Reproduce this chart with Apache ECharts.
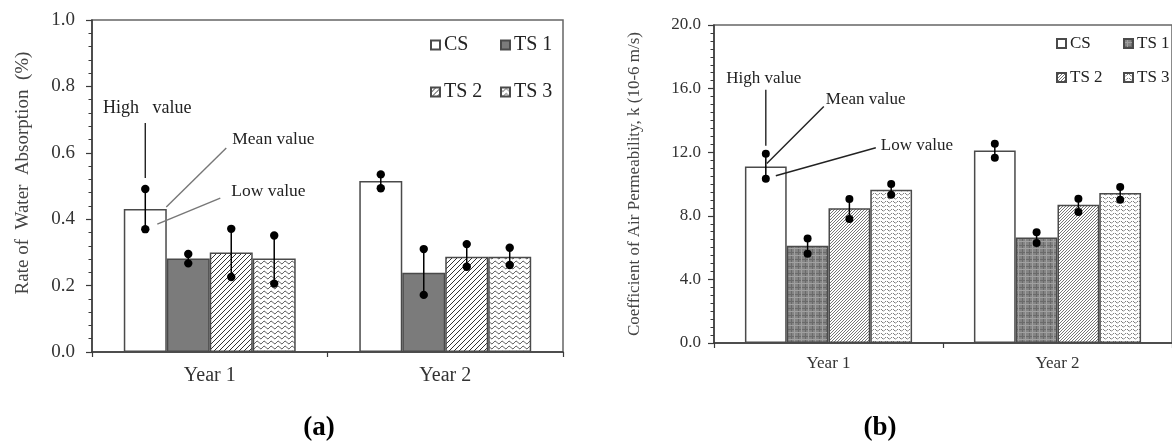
<!DOCTYPE html>
<html><head><meta charset="utf-8">
<script src="https://cdn.jsdelivr.net/npm/echarts@6/dist/echarts.min.js"></script>
<style>html,body{margin:0;padding:0;background:#fff}#c{width:1172px;height:445px}</style>
</head><body><div id="c"></div>
<script>
const categories = ['Year 1', 'Year 2'];
const seriesNames = ['CS', 'TS 1', 'TS 2', 'TS 3'];
// (a) Rate of water absorption (%) : [series][year]
const waMean = [[0.431, 0.515], [0.282, 0.239], [0.300, 0.287], [0.282, 0.287]];
const waHigh = [[0.491, 0.535], [0.295, 0.310], [0.371, 0.325], [0.351, 0.314]];
const waLow  = [[0.370, 0.493], [0.267, 0.172], [0.226, 0.257], [0.206, 0.262]];
// (b) Coefficient of air permeability
const apMean = [[11.10, 12.11], [6.12, 6.64], [8.47, 8.70], [9.64, 9.43]];
const apHigh = [[11.90, 12.53], [6.58, 6.96], [9.06, 9.08], [10.00, 9.81]];
const apLow  = [[10.33, 11.65], [5.62, 6.29], [7.80, 8.24], [9.33, 9.01]];

const FONT = '"Liberation Serif", "Times New Roman", serif';
const GAP = 0.27;

function tile(w, h, draw) {
  const c = document.createElement('canvas'); c.width = w; c.height = h;
  const g = c.getContext('2d'); draw(g, w, h); return c;
}
function pat(c) { return { image: c, repeat: 'repeat' }; }
function hatch(s, col, bg, lw) {
  return tile(s, s, (g) => {
    g.fillStyle = bg; g.fillRect(0, 0, s, s);
    g.strokeStyle = col; g.lineWidth = lw;
    for (const o of [-s, 0, s]) { g.beginPath(); g.moveTo(o, s); g.lineTo(o + s, 0); g.stroke(); }
  });
}
function wave(w, h, col, lw, dash) {
  return tile(w, h, (g) => {
    g.fillStyle = '#fff'; g.fillRect(0, 0, w, h);
    g.strokeStyle = col; g.lineWidth = lw;
    if (dash) g.setLineDash(dash);
    g.beginPath();
    for (let x = 0; x <= w; x += 0.5) {
      const y = h / 2 + Math.sin(x / w * Math.PI * 2) * (h * 0.25);
      if (x === 0) g.moveTo(x, y); else g.lineTo(x, y);
    }
    g.stroke();
  });
}
const checker = tile(7, 7, (g) => {
  g.fillStyle = '#848484'; g.fillRect(0, 0, 7, 7);
  g.fillStyle = '#6a6a6a'; g.fillRect(0, 0, 7, 1); g.fillRect(0, 0, 1, 7);
  g.fillStyle = '#a0a0a0'; g.fillRect(0, 3, 7, 1); g.fillRect(3, 0, 1, 7);
});

const fillsA = ['#ffffff', '#7b7b7b', pat(hatch(5, '#333', '#fff', 1)), pat(wave(7, 5, '#333', 1))];
const fillsB = ['#ffffff', pat(checker), pat(hatch(3, '#666', '#fff', 0.9)), pat(wave(6, 4, '#555', 1, [2, 1]))];

function barSeries(prefix, means, fills, gi, bw) {
  return means.map((m, i) => ({
    name: prefix + seriesNames[i], type: 'bar', xAxisIndex: gi, yAxisIndex: gi,
    data: m, barGap: '0%', barCategoryGap: (GAP * 100) + '%',
    itemStyle: { color: fills[i], borderColor: '#4a4a4a', borderWidth: bw },
    emphasis: { disabled: true }, animation: false
  }));
}
function errSeries(highs, lows, gi, r) {
  return highs.map((hArr, i) => ({
    type: 'custom', xAxisIndex: gi, yAxisIndex: gi, z: 5, animation: false,
    data: hArr.map((h, k) => [k, lows[i][k], h]),
    encode: { x: 0, y: [1, 2] },
    renderItem: (params, api) => {
      const band = api.size([1, 0])[0];
      const bw = band * (1 - GAP) / 4;
      const c = api.coord([api.value(0), api.value(1)]);
      const x = c[0] + (i - 1.5) * bw;
      const yl = c[1];
      const yh = api.coord([api.value(0), api.value(2)])[1];
      return { type: 'group', children: [
        { type: 'line', shape: { x1: x, y1: yh, x2: x, y2: yl }, style: { stroke: '#000', lineWidth: 1.5 } },
        { type: 'circle', shape: { cx: x, cy: yh, r: r }, style: { fill: '#000' } },
        { type: 'circle', shape: { cx: x, cy: yl, r: r }, style: { fill: '#000' } }
      ]};
    }
  }));
}
function legends(prefix, pos, fs) {
  return seriesNames.map((n, i) => ({
    data: [prefix + n], left: pos[i][0], top: pos[i][1], padding: 0,
    itemWidth: 9, itemHeight: 9, itemGap: 0, icon: 'rect', selectedMode: false,
    formatter: (s) => s.replace(/^b:/, ''),
    textStyle: { fontFamily: FONT, fontSize: fs, color: '#222', padding: [0, 0, 0, -1] }
  }));
}
function yAx(gi, max, interval, split, fs, margin, name, nameGap, namePad, nameFs) {
  return {
    gridIndex: gi, type: 'value', min: 0, max: max, interval: interval,
    name: name, nameLocation: 'middle', nameGap: nameGap,
    nameTextStyle: { fontFamily: FONT, fontSize: nameFs, color: '#444', padding: namePad },
    axisLine: { show: true, lineStyle: { color: '#3a3a3a', width: 1.5 } },
    axisTick: { show: true, length: 6, lineStyle: { color: '#3a3a3a', width: 1.2 } },
    minorTick: { show: true, splitNumber: split, length: 3.5, lineStyle: { color: '#3a3a3a', width: 1 } },
    splitLine: { show: false },
    axisLabel: { fontFamily: FONT, fontSize: fs, color: '#333', margin: margin, formatter: (v) => v.toFixed(1) }
  };
}
function xAx(gi, fs, margin) {
  return {
    gridIndex: gi, type: 'category', data: categories,
    axisLine: { show: true, lineStyle: { color: '#3a3a3a', width: 1.5 } },
    axisTick: { show: true, length: 5, lineStyle: { color: '#3a3a3a', width: 1.2 } },
    axisLabel: { fontFamily: FONT, fontSize: fs, color: '#333', margin: margin }
  };
}

const chart = echarts.init(document.getElementById('c'), null, { renderer: 'canvas' });
const option = {
  backgroundColor: '#fff',
  animation: false,
  grid: [
    { left: 92, top: 20, width: 471, height: 332, show: true, borderColor: '#666', borderWidth: 1.5, backgroundColor: 'transparent' },
    { left: 714, top: 25, width: 466, height: 318, show: true, borderColor: '#666', borderWidth: 1.5, backgroundColor: 'transparent' }
  ],
  xAxis: [xAx(0, 20, 14), xAx(1, 17, 12)],
  yAxis: [
    yAx(0, 1, 0.2, 5, 19, 17, 'Rate of  Water  Absorption  (%)', 59, [0, 0, 0, 26], 19),
    yAx(1, 20, 4, 8, 17, 13, 'Coefficient of Air Permeability, k (10-6 m/s)', 71, [0, 0, 0, 0], 17)
  ],
  legend: [].concat(
    legends('', [[430, 35], [500, 35], [430, 82], [500, 82]], 20),
    legends('b:', [[1056, 35], [1123, 35], [1056, 69], [1123, 69]], 17)
  ),
  series: [].concat(
    barSeries('', waMean, fillsA, 0, 1.5),
    barSeries('b:', apMean, fillsB, 1, 1.5),
    errSeries(waHigh, waLow, 0, 4.2),
    errSeries(apHigh, apLow, 1, 4)
  )
};
chart.setOption(option);

// Callout annotations anchored on the CS / Year 1 error bar of each panel
function csPoint(gi, v) {
  const p0 = chart.convertToPixel({ gridIndex: gi }, [0, v]);
  const p1 = chart.convertToPixel({ gridIndex: gi }, [1, v]);
  const band = p1[0] - p0[0];
  return [p0[0] - 1.5 * band * (1 - GAP) / 4, p0[1]];
}
const aH = csPoint(0, waHigh[0][0]), aM = csPoint(0, waMean[0][0]), aL = csPoint(0, waLow[0][0]);
const bH = csPoint(1, apHigh[0][0]), bM = csPoint(1, apMean[0][0]), bL = csPoint(1, apLow[0][0]);
const ln = (x1, y1, x2, y2, col) => ({ type: 'line', shape: { x1, y1, x2, y2 }, style: { stroke: col, lineWidth: 1.4 }, z: 10 });
const tx = (x, y, t, fs, align) => ({ type: 'text', x, y, z: 10, style: { text: t, font: fs + 'px ' + FONT, fill: '#222', align: align || 'left', verticalAlign: 'middle' } });
chart.setOption({ graphic: [
  ln(aH[0], aH[1] - 66, aH[0], aH[1] - 11, '#222'),
  tx(aH[0] + 2, aH[1] - 81, 'High   value', 18, 'center'),
  ln(aM[0] + 21, aM[1] - 2, aM[0] + 81, aM[1] - 61, '#777'),
  tx(aM[0] + 87, aM[1] - 70, 'Mean value', 17.5),
  ln(aL[0] + 12, aL[1] - 5, aL[0] + 75, aL[1] - 31, '#777'),
  tx(aL[0] + 86, aL[1] - 38, 'Low value', 17.5),
  ln(bH[0], bH[1] - 64, bH[0], bH[1] - 8, '#222'),
  tx(bH[0] - 2, bH[1] - 75, 'High value', 17, 'center'),
  ln(bM[0] + 1, bM[1] - 3, bM[0] + 58, bM[1] - 60, '#222'),
  tx(bM[0] + 60, bM[1] - 67, 'Mean value', 17),
  ln(bL[0] + 10, bL[1] - 3, bL[0] + 110, bL[1] - 31, '#222'),
  tx(bL[0] + 115, bL[1] - 33, 'Low value', 17),
  { type: 'text', x: 319, y: 428, style: { text: '(a)', font: 'bold 27px ' + FONT, fill: '#000', align: 'center', verticalAlign: 'middle' } },
  { type: 'text', x: 880, y: 428, style: { text: '(b)', font: 'bold 27px ' + FONT, fill: '#000', align: 'center', verticalAlign: 'middle' } }
]});
</script></body></html>
